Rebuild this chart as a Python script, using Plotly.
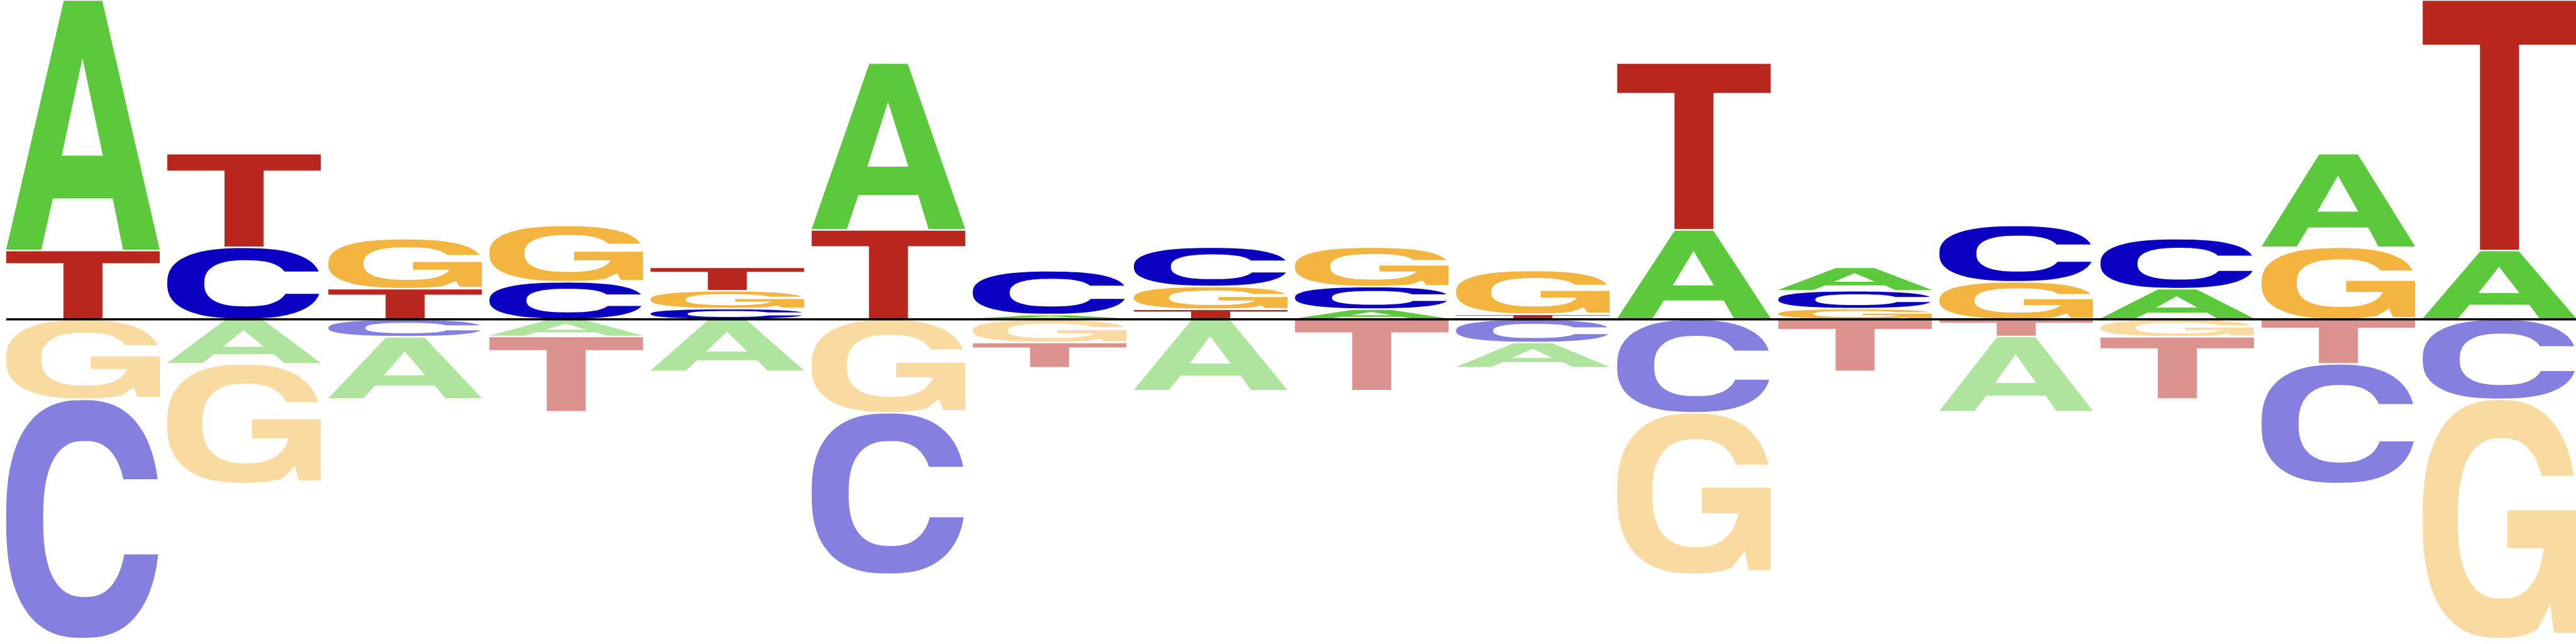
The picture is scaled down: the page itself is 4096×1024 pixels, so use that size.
import numpy as np
import plotly.graph_objects as go

# ---------------- data (heights in bits) ----------------
positions = list(range(1, 17))
A_up = [1.569, 0.0, 0.0, 0.0, 0.0, 1.045, 0.030, 0.0, 0.064, 0.0, 0.560, 0.147, 0.0, 0.192, 0.587, 0.431]
C_up = [0.0, 0.451, 0.0, 0.235, 0.067, 0.0, 0.274, 0.246, 0.141, 0.0, 0.0, 0.112, 0.353, 0.313, 0.0, 0.0]
G_up = [0.0, 0.0, 0.313, 0.353, 0.112, 0.0, 0.0, 0.143, 0.247, 0.274, 0.0, 0.067, 0.235, 0.0, 0.451, 0.0]
T_up = [0.431, 0.587, 0.192, 0.0, 0.147, 0.560, 0.0, 0.063, 0.0, 0.032, 1.045, 0.0, 0.0, 0.0, 0.0, 1.569]

A_dn = [0.0, 0.279, 0.390, 0.107, 0.326, 0.0, 0.0, 0.447, 0.0, 0.158, 0.0, 0.0, 0.472, 0.0, 0.0, 0.0]
C_dn = [1.499, 0.0, 0.109, 0.0, 0.0, 1.012, 0.0, 0.0, 0.0, 0.145, 0.585, 0.0, 0.0, 0.0, 0.750, 0.501]
G_dn = [0.501, 0.750, 0.0, 0.0, 0.0, 0.585, 0.145, 0.0, 0.0, 0.0, 1.012, 0.0, 0.0, 0.109, 0.0, 1.499]
T_dn = [0.0, 0.0, 0.0, 0.472, 0.0, 0.0, 0.158, 0.0, 0.447, 0.0, 0.0, 0.326, 0.107, 0.390, 0.279, 0.0]

letters = ["A", "C", "G", "T"]
up_values = {"A": A_up, "C": C_up, "G": G_up, "T": T_up}
dn_values = {"A": A_dn, "C": C_dn, "G": G_dn, "T": T_dn}

# ---------------- style ----------------
colors = {"A": (92, 200, 59), "C": (11, 0, 194), "G": (243, 181, 64), "T": (184, 38, 29)}
LIGHT = 0.5
LETTER_W = 0.953
PAD = 0.005
X_RANGE = [0.4853, 16.475]
Y_RANGE = [-2.0336, 2.0]


def hexcol(rgb, light=0.0):
    r, g, b = [int(round(c + (255 - c) * light)) for c in rgb]
    return "#%02X%02X%02X" % (r, g, b)


# ---------------- glyph outlines in unit box ----------------
N = 2.5


def se(cx, cy, rx, ry, t):
    c, s = np.cos(t), np.sin(t)
    x = cx + rx * np.sign(c) * np.abs(c) ** (2 / N)
    y = cy + ry * np.sign(s) * np.abs(s) ** (2 / N)
    return list(zip(x, y))


def ang(dy, r):
    return np.arcsin(min(1.0, (abs(dy) / r)) ** (N / 2))


def glyph_A():
    outer = [(0, 0), (0.375, 1), (0.626, 1), (1, 0), (0.761, 0), (0.694, 0.206),
             (0.304, 0.206), (0.229, 0)]
    counter = [(0.497, 0.770), (0.362, 0.378), (0.630, 0.378)]
    return [outer, counter]


def glyph_T():
    return [[(0, 1), (1, 1), (1, 0.824), (0.627, 0.824), (0.627, 0), (0.373, 0),
             (0.373, 0.824), (0, 0.824)]]


def glyph_C():
    tu = ang(0.667 - 0.5, 0.5)
    tl = ang(0.5 - 0.351, 0.5)
    outer = se(0.5, 0.5, 0.5, 0.5, np.linspace(tu, 2 * np.pi - tl, 90))
    tiu = ang(0.667 - 0.5, 0.328)
    til = ang(0.5 - 0.351, 0.328)
    inner = se(0.513, 0.5, 0.272, 0.328, np.linspace(2 * np.pi - til, tiu, 70))
    return [outer + inner]


def glyph_G():
    tu = ang(0.681 - 0.5, 0.5)
    tend = 2 * np.pi - np.arccos(0.5 ** 1.25)
    outer = se(0.5, 0.5, 0.5, 0.5, np.linspace(tu, tend, 90))
    mid = [(0.831, 0.142), (0.855, 0.021), (1.0, 0.021), (1.0, 0.536),
           (0.551, 0.536), (0.551, 0.377)]
    a0 = ang(0.5025 - 0.377, 0.3375)
    tiu = ang(0.681 - 0.5025, 0.3375)
    inner = se(0.514, 0.5025, 0.2854, 0.3375, np.linspace(-a0, tiu - 2 * np.pi, 70))
    return [outer + mid + inner]


GLYPHS = {"A": glyph_A(), "C": glyph_C(), "G": glyph_G(), "T": glyph_T()}


def glyph_path(letter, xc, y0, h):
    x0 = xc - LETTER_W / 2
    gy0 = y0 + PAD
    gh = max(h - 2 * PAD, 0.0005)
    parts = []
    for sub in GLYPHS[letter]:
        pts = ["%.5f,%.5f" % (x0 + u * LETTER_W, gy0 + v * gh) for u, v in sub]
        parts.append("M" + " L".join(pts) + " Z")
    return " ".join(parts)


shapes = []
for i, xc in enumerate(positions):
    # above baseline: smallest next to the line
    ups = sorted([(up_values[L][i], L) for L in letters if up_values[L][i] > 0])
    base = 0.0
    for h, L in ups:
        shapes.append(dict(type="path", xref="x", yref="y", path=glyph_path(L, xc, base, h),
                           fillcolor=hexcol(colors[L]), line=dict(width=0),
                           fillrule="evenodd", layer="above"))
        base += h
    # below baseline: smallest next to the line
    dns = sorted([(dn_values[L][i], L) for L in letters if dn_values[L][i] > 0])
    base = 0.0
    for h, L in dns:
        shapes.append(dict(type="path", xref="x", yref="y", path=glyph_path(L, xc, base - h, h),
                           fillcolor=hexcol(colors[L], LIGHT), line=dict(width=0),
                           fillrule="evenodd", layer="above"))
        base -= h

# baseline
shapes.append(dict(type="line", xref="x", yref="y", x0=positions[0] - LETTER_W / 2, x1=X_RANGE[1],
                   y0=0, y1=0, line=dict(color="black", width=3.4), layer="above"))

fig = go.Figure()
fig.add_trace(go.Scatter(x=[positions[0]], y=[0], mode="markers", marker=dict(opacity=0),
                         hoverinfo="skip", showlegend=False))
fig.update_layout(
    width=4096, height=1024,
    margin=dict(l=0, r=0, t=0, b=0),
    paper_bgcolor="white", plot_bgcolor="white",
    shapes=shapes, showlegend=False,
    xaxis=dict(range=X_RANGE, visible=False, fixedrange=True),
    yaxis=dict(range=Y_RANGE, visible=False, fixedrange=True),
)
fig.write_html(
    "out.html",
    config={"displayModeBar": False},
    post_script="document.body.style.margin='0';document.body.style.padding='0';"
                "document.body.style.overflow='hidden';",
)
